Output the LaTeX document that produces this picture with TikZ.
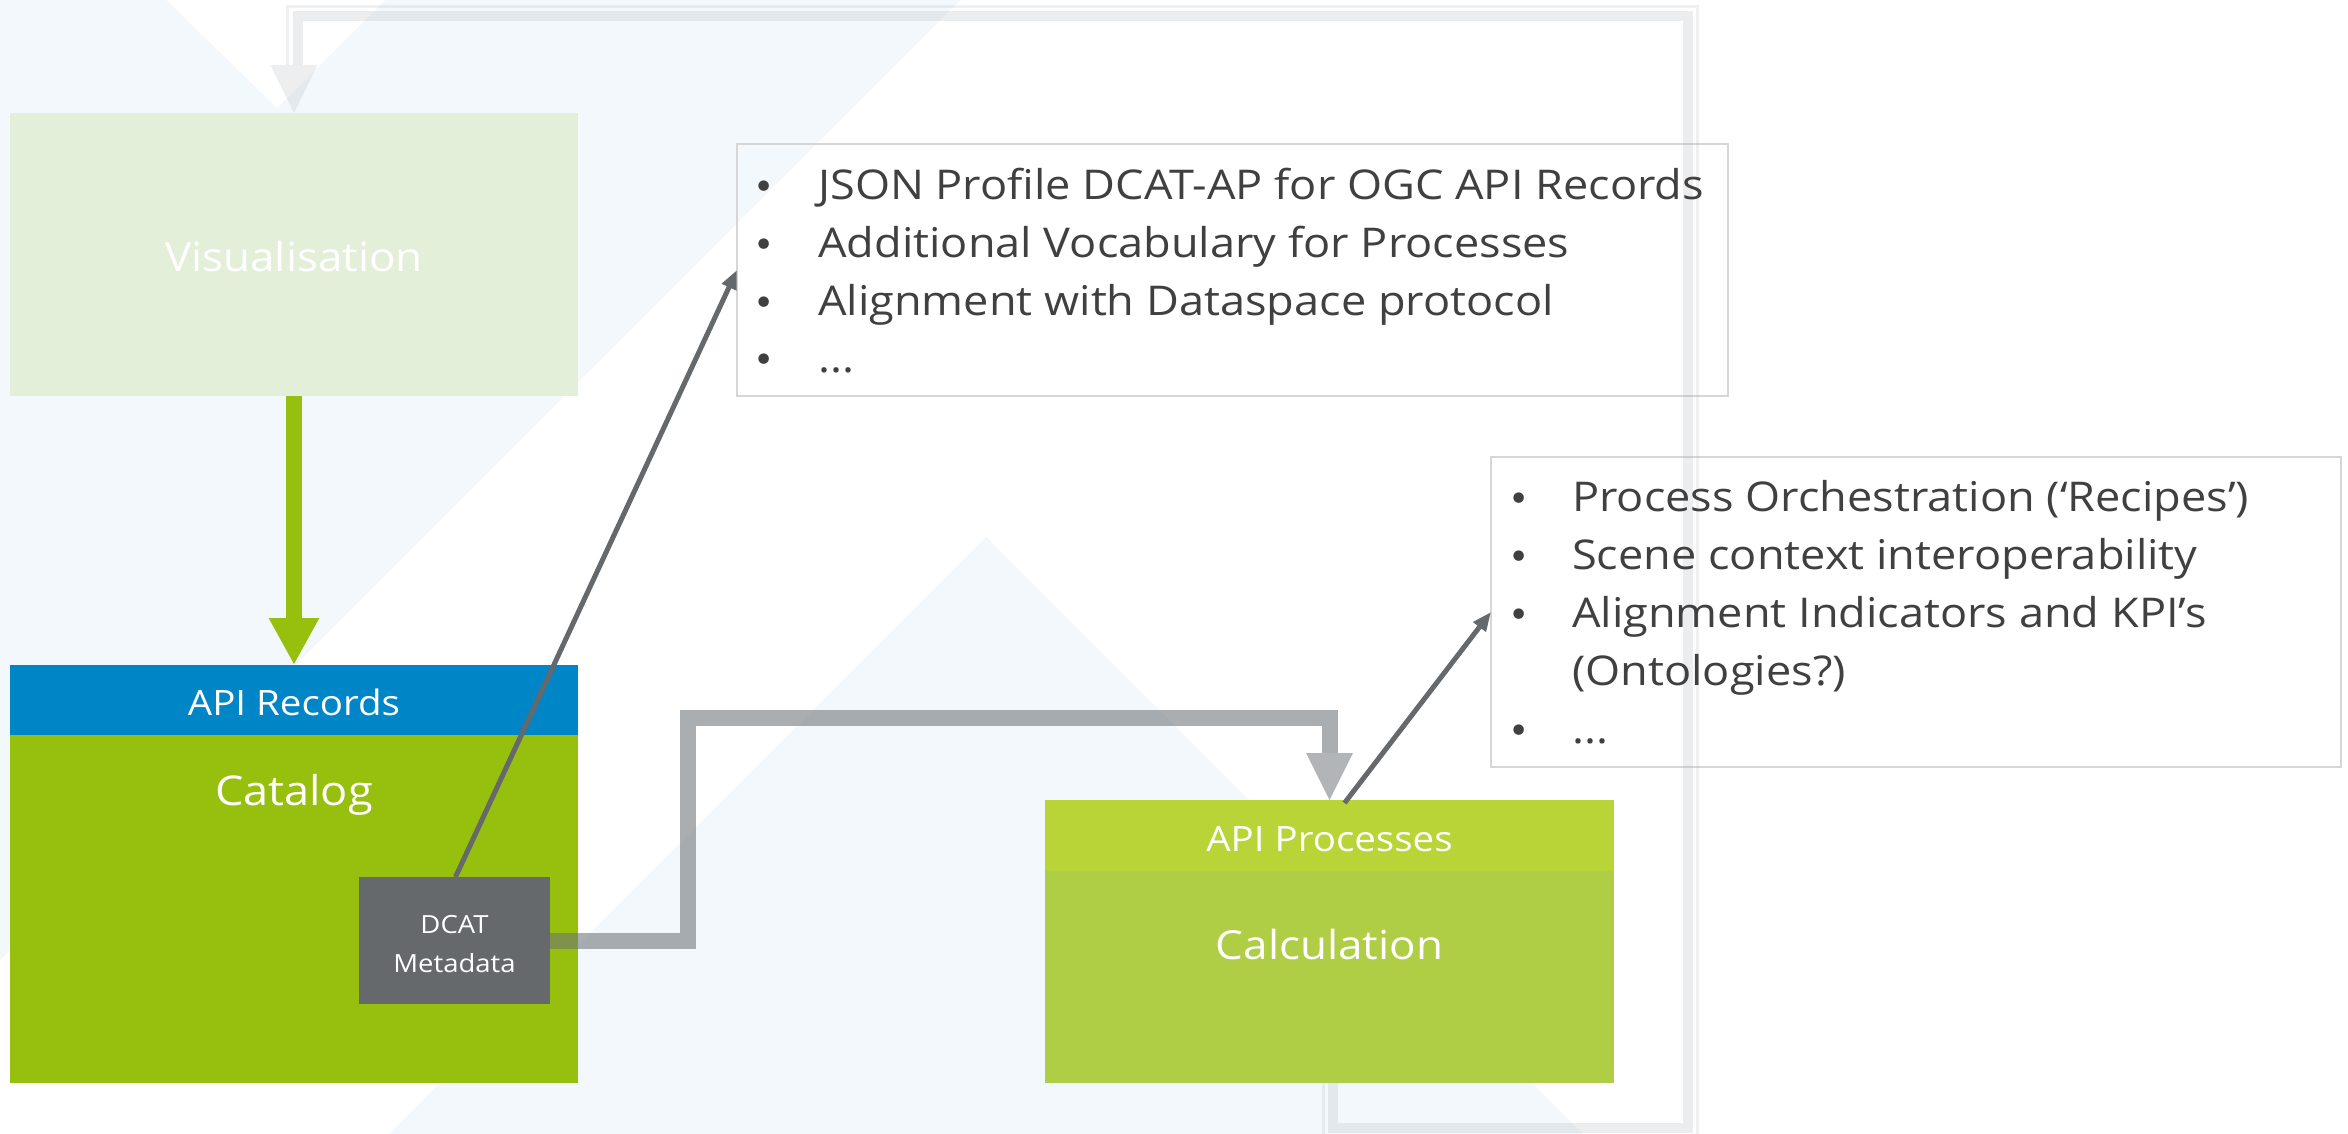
\documentclass[tikz,border=0pt]{standalone}
\usepackage{fontspec}
\setmainfont{Open Sans}[FakeStretch=1.1]
\newfontfamily\bulletfont{DejaVu Sans}
\usetikzlibrary{arrows.meta,calc}

\definecolor{bgblue}{HTML}{F3F8FC}
\definecolor{vispale}{HTML}{E3EFD9}
\definecolor{catgreen}{HTML}{97BF0D}
\definecolor{apiblue}{HTML}{0085C7}
\definecolor{dcatgrey}{HTML}{66696B}
\definecolor{calchead}{HTML}{B8D436}
\definecolor{calcbody}{HTML}{AFCD45}
\definecolor{textdark}{HTML}{404040}
\definecolor{boxborder}{HTML}{D6D6D6}
\definecolor{flowgrey}{HTML}{6D7275}
\definecolor{loopgrey}{HTML}{9AA0A4}

\begin{document}
\begin{tikzpicture}[x=1pt,y=-1pt,
  panel/.style={rectangle, inner sep=0pt, outer sep=0pt, draw=none},
  listbox/.style={rectangle, inner sep=0pt, outer sep=0pt, draw=boxborder, line width=2.5pt},
  lbl/.style={text=white, inner sep=0pt, anchor=base},
  item/.style={text=textdark, inner sep=0pt, anchor=base west, font=\fontsize{41}{48}\selectfont},
  dot/.style={text=textdark, inner sep=0pt, anchor=base, font=\bulletfont\fontsize{36}{44}\selectfont},
  greenarrow/.style={draw=catgreen, line width=16pt, -{Triangle[length=47pt,width=47pt]}},
  greyshaft/.style={draw=flowgrey, opacity=0.57, line width=16pt},
  greyhead/.style={fill=flowgrey, opacity=0.52},
  thinarrow/.style={draw=dcatgrey, line width=5pt, -{Triangle[length=19pt,width=15pt]}},
  loopthick/.style={draw=loopgrey, opacity=0.18, line width=10pt},
  loopthin/.style={draw=loopgrey, opacity=0.15, line width=3pt},
]
\useasboundingbox (0,0) rectangle (2348,1134);
\clip (0,0) rectangle (2348,1134);
\fill[white] (0,0) rectangle (2348,1134);

% background triangles
\fill[bgblue] (0,0) -- (166,0) -- (277,108) -- (386,0) -- (960,0) -- (0,960) -- cycle;
\fill[bgblue] (986,537) -- (1583,1134) -- (389,1134) -- cycle;

% boxes
\node[panel, fill=vispale, minimum width=568pt, minimum height=283pt] (vis) at (294,254.5) {};
\node[panel, fill=catgreen, minimum width=568pt, minimum height=418pt] (cat) at (294,874) {};
\node[panel, fill=apiblue, minimum width=568pt, minimum height=70pt] (cathead) at (294,700) {};
\node[panel, fill=calcbody, minimum width=569pt, minimum height=283pt] (calc) at (1329.5,941.5) {};
\node[panel, fill=calchead, minimum width=569pt, minimum height=71pt] (calchead) at (1329.5,835.5) {};
\node[listbox, minimum width=991pt, minimum height=252pt] (box1) at (1232.5,270) {};
\node[listbox, minimum width=850pt, minimum height=310pt] (box2) at (1916,612) {};

% feedback loop from Calculation back to Visualisation
\coordinate (ta) at (1333,1128);
\coordinate (tb) at (1688,1128);
\coordinate (tc) at (1688,16);
\coordinate (td) at (297.5,16);
\coordinate (te) at (297.5,65);
\coordinate (sa) at (1323.5,1137.5);
\coordinate (sb) at (1697,1137.5);
\coordinate (sc) at (1697,6.5);
\coordinate (sd) at (287.5,6.5);
\coordinate (se) at (287.5,65);
\draw[loopthick] ($(calc.south)+(3.5,0)$) -- (ta) -- (tb) -- (tc) -- (td) -- (te);
\draw[loopthin] ($(calc.south)+(-6,0)$) -- (sa) -- (sb) -- (sc) -- (sd) -- (se);
\fill[loopgrey, opacity=0.17] (270.5,65) -- (317.5,65) -- (vis.north) -- cycle;

% flows
\draw[greenarrow] (vis.south) -- (cathead.north);
\coordinate (bend) at (688,718);
\node[panel, minimum width=191pt, minimum height=127pt] (dcatpos) at (454.5,940.5) {};
\coordinate (headbase) at ($(calchead.north)+(0,-47)$);
\draw[greyshaft] (dcatpos.east) -| (bend) -| (headbase);
\fill[greyhead] ($(headbase)+(-23.5,0)$) -- ($(headbase)+(23.5,0)$) -- (calchead.north) -- cycle;
\node[panel, fill=dcatgrey, minimum width=191pt, minimum height=127pt] (dcat) at (454.5,940.5) {};
\draw[thinarrow] ($(dcat.north)+(1,0)$) -- (box1.west);
\draw[thinarrow] ($(calchead.north)+(15,3)$) -- (box2.west);

% labels
\node[lbl, font=\fontsize{40}{48}\selectfont] (vistxt) at (294,272) {Visualisation};
\node[lbl, font=\fontsize{35}{42}\selectfont] (rectxt) at (294,715) {API Records};
\node[lbl, font=\fontsize{41}{48}\selectfont] (cattxt) at (294,805) {Catalog};
\node[lbl, font=\fontsize{25}{30}\selectfont] (dcattxt) at (454.5,933) {DCAT};
\node[lbl, font=\fontsize{25}{30}\selectfont] (metatxt) at (454.5,972) {Metadata};
\node[lbl, font=\fontsize{35}{42}\selectfont] (proctxt) at (1329.5,851) {API Processes};
\node[lbl, font=\fontsize{40}{48}\selectfont] (calctxt) at (1329.5,959) {Calculation};

% first list
\node[dot] (d11) at (764,200) {•};
\node[item] (i11) at (818,200) {JSON Profile DCAT-AP for OGC API Records};
\node[dot] (d12) at (764,257.5) {•};
\node[item] (i12) at (818,257.5) {Additional Vocabulary for Processes};
\node[dot] (d13) at (764,315) {•};
\node[item] (i13) at (818,315) {Alignment with Dataspace protocol};
\node[dot] (d14) at (764,372.5) {•};
\node[item] (i14) at (818,372.5) {...};

% second list
\node[dot] (d21) at (1519,511) {•};
\node[item] (i21) at (1572,511) {Process Orchestration (‘Recipes’)};
\node[dot] (d22) at (1519,569) {•};
\node[item] (i22) at (1572,569) {Scene context interoperability};
\node[dot] (d23) at (1519,627) {•};
\node[item] (i23) at (1572,627) {Alignment Indicators and KPI’s};
\node[item] (i24) at (1572,685) {(Ontologies?)};
\node[dot] (d25) at (1519,743) {•};
\node[item] (i25) at (1572,743) {...};
\end{tikzpicture}
\end{document}
